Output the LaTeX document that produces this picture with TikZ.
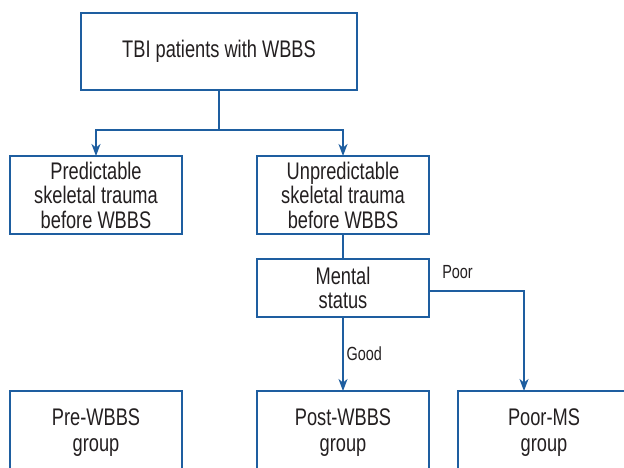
\documentclass[tikz,border=0pt]{standalone}
\usepackage{fontspec}
\setmainfont[FakeStretch=0.76]{Liberation Sans}
\usepackage{tikz}
\usetikzlibrary{positioning, arrows.meta}
\definecolor{lineColor}{RGB}{30, 94, 160}
\definecolor{textColor}{RGB}{35, 31, 32}
\tikzset{
    flow_box/.style={
        rectangle,
        draw=lineColor,
        line width=1.3pt,
        text=textColor,
        align=center,
        outer sep=0pt,
        inner sep=2pt,
        minimum width=172pt,
        minimum height=78pt,
        font=\fontsize{24}{24.5}\selectfont
    },
    flow_group/.style={
        flow_box,
        minimum height=84pt,
        font=\fontsize{24}{26}\selectfont
    },
    flow_edge/.style={
        draw=lineColor,
        line width=1.3pt
    },
    flow_arrow/.style={
        flow_edge,
        -{Stealth[length=12pt, width=9pt, inset=3.5pt]}
    },
    flow_label/.style={
        text=textColor,
        inner sep=3pt,
        font=\fontsize{19}{21}\selectfont
    }
}
\begin{document}
\begin{tikzpicture}[x=1pt, y=-1pt, node distance=25pt]
    \clip (0,0) rectangle (624,467);
    \node[flow_box, minimum width=276pt, minimum height=77pt] (top) at (219,51.5) {TBI patients with WBBS};
    \node[flow_box] (pred) at (96,195) {Predictable\\skeletal trauma\\before WBBS};
    \node[flow_box, right=75pt of pred] (unpred) {Unpredictable\\skeletal trauma\\before WBBS};
    \node[flow_box, minimum height=58pt, below=of unpred] (mental) {Mental\\status};
    \node[flow_group, below=157pt of pred] (pre) {Pre-WBBS\\group};
    \node[flow_group, below=157pt of unpred] (post) {Post-WBBS\\group};
    \node[flow_group, right=29pt of post] (poorms) {Poor-MS\\group};

    \draw[flow_edge] (top.south) -- ++(0,40) coordinate (split);
    \draw[flow_arrow] (split) -| (pred.north);
    \draw[flow_arrow] (split) -| (unpred.north);
    \draw[flow_edge] (unpred) -- (mental);
    \draw[flow_arrow] (mental) -- node[flow_label, right] {Good} (post);
    \draw[flow_arrow] ([yshift=-3pt]mental.east) -| node[flow_label, pos=0.15, above=9pt] {Poor} ([xshift=-20pt]poorms.north);
\end{tikzpicture}
\end{document}
